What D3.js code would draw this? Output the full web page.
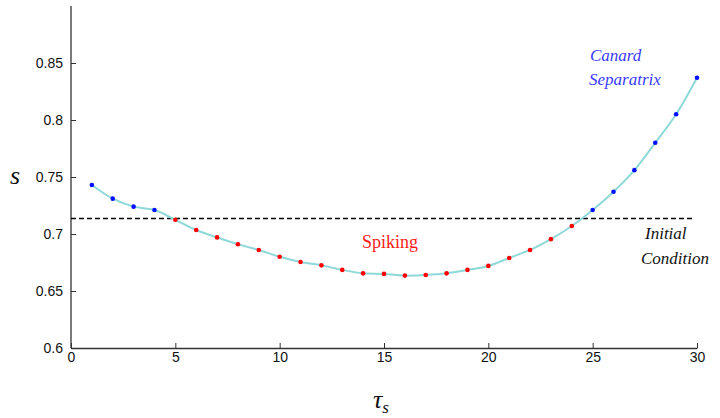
<!DOCTYPE html>
<html>
<head>
<meta charset="utf-8">
<script src="https://cdn.jsdelivr.net/npm/d3@7"></script>
<style>
  body { margin: 0; background: #fff; }
  .tick text { font-family: "Liberation Sans", Arial, sans-serif; font-size: 14px; fill: #111; }
  .lbl { font-family: "Liberation Serif", "DejaVu Serif", "Times New Roman", serif; }
</style>
</head>
<body>
<div id="chart"></div>
<script>
// tau_s values and the s value reached for each
var tau = [1,2,3,4,5,6,7,8,9,10,11,12,13,14,15,16,17,18,19,20,21,22,23,24,25,26,27,28,29,30];
var sVal = [0.743,0.731,0.724,0.721,0.7125,0.7035,0.697,0.691,0.686,0.680,0.6755,0.6725,0.6685,0.6655,0.665,0.6635,0.664,0.6655,0.6685,0.672,0.679,0.686,0.6955,0.707,0.721,0.737,0.756,0.780,0.805,0.837];
// which regime: "c" = canard separatrix (blue), "s" = spiking (red)
var regime = ["c","c","c","c","s","s","s","s","s","s","s","s","s","s","s","s","s","s","s","s","s","s","s","s","c","c","c","c","c","c"];
var initial = 0.7135;
var xTicks = [0,5,10,15,20,25,30];
var yTicks = [0.6,0.65,0.7,0.75,0.8,0.85];

var width = 720, height = 418;
var svg = d3.select("#chart").append("svg").attr("width", width).attr("height", height);

var x = d3.scaleLinear().domain([0, 30]).range([71, 697]);
var y = d3.scaleLinear().domain([0.6, 0.9]).range([348, 6]);

// axes, ticks pointing inward
var xAxis = svg.append("g").attr("transform", "translate(0," + y(0.6) + ")")
  .call(d3.axisBottom(x).tickValues(xTicks).tickSizeInner(-5).tickSizeOuter(0).tickPadding(6).tickFormat(d3.format("d")));
var yAxis = svg.append("g").attr("transform", "translate(" + x(0) + ",0)")
  .call(d3.axisLeft(y).tickValues(yTicks).tickSizeInner(-5).tickSizeOuter(0).tickPadding(8).tickFormat(function (d) { return String(+d.toFixed(2)); }));
xAxis.select(".domain").attr("stroke", "#333").attr("stroke-width", 1.3);
yAxis.select(".domain").attr("stroke", "#333").attr("stroke-width", 1.3)
  .attr("d", "M0," + y(0.6) + "V" + y(0.9));
svg.selectAll(".tick line").attr("stroke", "#333");
xAxis.selectAll(".tick text").attr("dy", "0.55em");

// initial condition line
svg.append("line")
  .attr("x1", x(0)).attr("x2", x(29.9))
  .attr("y1", y(initial)).attr("y2", y(initial))
  .attr("stroke", "#000").attr("stroke-width", 1.5).attr("stroke-dasharray", "5,3");

// curve
var line = d3.line().x(function (d, i) { return x(tau[i]); }).y(function (d) { return y(d); }).curve(d3.curveCatmullRom);
svg.append("path").datum(sVal).attr("d", line)
  .attr("fill", "none").attr("stroke", "#8fd8d8").attr("stroke-width", 2);

svg.selectAll("circle.pt").data(sVal).enter().append("circle")
  .attr("class", "pt")
  .attr("cx", function (d, i) { return x(tau[i]); })
  .attr("cy", function (d) { return y(d); })
  .attr("r", 2.3)
  .attr("fill", function (d, i) { return regime[i] === "c" ? "#0010ff" : "#ff0000"; });

// labels
function label(tx, ty, str, size, col, italic) {
  return svg.append("text").attr("class", "lbl").attr("x", tx).attr("y", ty)
    .attr("font-size", size).attr("font-style", italic ? "italic" : "normal")
    .attr("fill", col).text(str);
}
label(590, 61, "Canard", 17, "#3a3aff", true);
label(589, 85, "Separatrix", 17, "#3a3aff", true);
label(645, 239, "Initial", 17, "#111", true);
label(641, 264, "Condition", 17, "#111", true);
label(362, 248, "Spiking", 18, "#ff1a1a", false);
label(10, 184, "s", 26, "#111", true);
var xl = label(373, 408, "", 26, "#111", true);
xl.append("tspan").text("τ");
xl.append("tspan").attr("dy", 5).attr("font-size", 17).text("s");
</script>
</body>
</html>
